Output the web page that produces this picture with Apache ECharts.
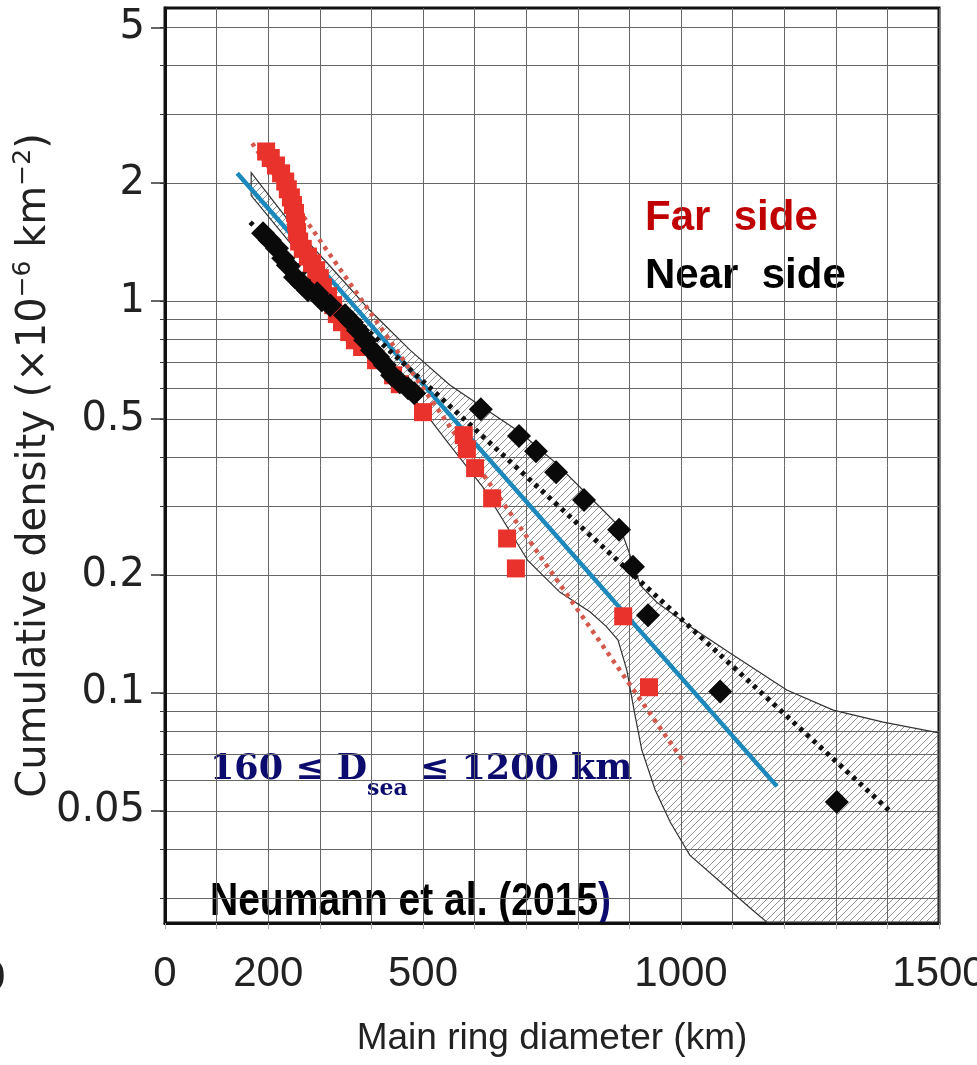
<!DOCTYPE html>
<html>
<head>
<meta charset="utf-8">
<script src="https://cdn.jsdelivr.net/npm/echarts@6/dist/echarts.min.js"></script>
<style>
  html, body { margin: 0; padding: 0; background: #fff; }
  #grafico { width: 977px; height: 1065px; }
</style>
</head>
<body>
<div id="grafico"></div>
<script>
// Datos: lado lejano (cuadrados rojos), diametro en km y densidad acumulada (x1e-6 km^-2)
const lejanoD = [196, 205, 215, 225, 233, 238, 244, 248, 252, 254, 256, 260, 267, 277, 285, 293, 300, 306, 316, 326,
  333, 343, 357, 368, 382, 409, 442, 455, 500, 579, 585, 601, 634, 663, 680, 888, 938];
const lejanoVal = [2.41, 2.32, 2.22, 2.12, 2.02, 1.93, 1.84, 1.76, 1.68, 1.59, 1.50, 1.42, 1.36, 1.30, 1.25, 1.20, 1.145, 1.086, 1.03, 0.977,
  0.927, 0.884, 0.834, 0.795, 0.764, 0.707, 0.647, 0.614, 0.521, 0.455, 0.419, 0.375, 0.314, 0.248, 0.208, 0.157, 0.1035];

// Datos: lado cercano (rombos negros)
const cercanoD = [190, 203, 217, 229, 238, 252, 266, 277, 295, 304, 320, 349, 362, 374, 388, 401, 413, 426, 440, 455,
  471, 483, 612, 686, 719, 758, 812, 880, 907, 936, 1076, 1302];
const cercanoVal = [1.49, 1.43, 1.365, 1.287, 1.235, 1.151, 1.105, 1.067, 1.048, 1.006, 0.977, 0.921, 0.884, 0.843, 0.795, 0.750, 0.720, 0.687, 0.647, 0.621,
  0.600, 0.582, 0.530, 0.453, 0.414, 0.366, 0.311, 0.261, 0.210, 0.158, 0.101, 0.0527];

// Ajustes (extremos de cada recta)
const ajusteTotalD = [140, 1186];
const ajusteTotalVal = [2.12, 0.0578];
const ajusteLejanoD = [169, 1008];
const ajusteLejanoVal = [2.53, 0.066];
const ajusteCercanoD = [165, 1407];
const ajusteCercanoVal = [1.59, 0.0497];

// Envolvente rayada: borde superior e inferior
const envSupD = [167, 242, 320, 397, 475, 552, 610, 688, 756, 824, 882, 905, 921, 953, 1017, 1095, 1205, 1295, 1392, 1500];
const envSupVal = [2.13, 1.59, 1.228, 0.948, 0.750, 0.611, 0.543, 0.463, 0.388, 0.316, 0.265, 0.218, 0.1886, 0.1706, 0.148, 0.1265, 0.1018, 0.0905, 0.0843, 0.0791];
const envInfD = [167, 262, 339, 397, 455, 500, 552, 616, 703, 765, 824, 855, 878, 895, 909, 924, 950, 979, 1017, 1076, 1134, 1167];
const envInfVal = [1.86, 1.31, 0.977, 0.782, 0.629, 0.527, 0.429, 0.3354, 0.218, 0.181, 0.161, 0.148, 0.1365, 0.1145, 0.0905, 0.0716, 0.0566, 0.0469, 0.0386, 0.033, 0.0283, 0.026];

// Ejes
const xMin = 0, xMax = 1500;
const yMin = 0.0259, yMax = 5.6;
const etiquetasX = [0, 200, 500, 1000, 1500];
const etiquetasY = [0.05, 0.1, 0.2, 0.5, 1, 2, 5];
const lineasY = [0.03, 0.04, 0.05, 0.06, 0.07, 0.08, 0.09, 0.1, 0.2, 0.3, 0.4, 0.5, 0.6, 0.7, 0.8, 0.9, 1, 2, 3, 4, 5];

function combinar(xs, ys) {
  return xs.map((x, i) => [x, ys[i]]);
}

// Patron de rayas diagonales para la envolvente
function crearRayado() {
  const c = document.createElement('canvas');
  c.width = 7; c.height = 7;
  const ctx = c.getContext('2d');
  ctx.strokeStyle = '#666';
  ctx.lineWidth = 0.7;
  ctx.beginPath();
  ctx.moveTo(0, 7); ctx.lineTo(7, 0);
  ctx.moveTo(-1, 1); ctx.lineTo(1, -1);
  ctx.moveTo(6, 8); ctx.lineTo(8, 6);
  ctx.stroke();
  return c;
}

function crearGrafico() {
  const rayado = { image: crearRayado(), repeat: 'repeat' };
  const fuente = '"Liberation Sans", Arial, Helvetica, sans-serif';

  return {
    animation: false,
    backgroundColor: '#fff',
    grid: {
      left: 165, right: 38, top: 8, bottom: 142,
      show: true, borderColor: '#111', borderWidth: 3,
      containLabel: false, outerBoundsMode: 'none'
    },
    xAxis: [{
      type: 'value', min: xMin, max: xMax, interval: 100,
      axisLine: { show: true, onZero: false, lineStyle: { color: '#111', width: 3 } },
      axisTick: { show: true, length: 6, lineStyle: { color: '#aaa' } },
      axisLabel: {
        customValues: etiquetasX, fontSize: 42, fontFamily: fuente, color: '#222', margin: 30,
        formatter: v => String(v)
      },
      splitLine: { show: true, lineStyle: { color: '#666', width: 1 } },
      name: 'Main ring diameter (km)', nameLocation: 'middle', nameGap: 97,
      nameTextStyle: { fontSize: 37, fontFamily: fuente, color: '#222' }
    }],
    yAxis: [{
      type: 'log', logBase: 10, min: yMin, max: yMax, position: 'left',
      axisLine: { show: true, lineStyle: { color: '#111', width: 3 } },
      axisTick: { show: true, length: 5, customValues: lineasY, lineStyle: { color: '#333' } },
      axisLabel: { show: false },
      splitLine: { show: true, lineStyle: { color: '#666', width: 1 } },
      name: '{a|Cumulative density (×10}{b|−6}{a| km}{b|−2}{a|)}',
      nameLocation: 'middle', nameGap: 106,
      nameTextStyle: {
        color: '#222',
        rich: {
          a: { fontSize: 40, lineHeight: 48, fontFamily: '"DejaVu Sans", sans-serif', color: '#222' },
          b: { fontSize: 25, lineHeight: 25, verticalAlign: 'top', fontFamily: '"DejaVu Sans", sans-serif', color: '#222' }
        }
      }
    }, {
      type: 'log', logBase: 10, min: yMin, max: yMax, position: 'left',
      axisLine: { show: false },
      axisTick: { show: true, length: 14, customValues: etiquetasY, lineStyle: { color: '#333', width: 1.5 } },
      axisLabel: {
        customValues: etiquetasY, fontSize: 40, fontFamily: '"DejaVu Sans", sans-serif', color: '#222', margin: 20,
        formatter: v => String(v)
      },
      splitLine: { show: false }
    }],
    graphic: [
      { type: 'text', x: 645, y: 218, silent: true,
        style: { text: 'Far  side', fill: '#c00000', font: 'bold 42px ' + fuente, align: 'left', verticalAlign: 'middle' } },
      { type: 'text', x: 645, y: 276, silent: true,
        style: { text: 'Near  side', fill: '#000', font: 'bold 42px ' + fuente, align: 'left', verticalAlign: 'middle' } },
      { type: 'text', x: 210, y: 752, silent: true,
        style: {
          text: '{a|160 ≤ D}{s|sea}{a| ≤ 1200 km}', align: 'left', verticalAlign: 'top',
          rich: {
            a: { fontSize: 35, lineHeight: 48, verticalAlign: 'top', fontWeight: 'bold', fontFamily: '"DejaVu Serif", serif', fill: '#0c0c6e' },
            s: { fontSize: 22, lineHeight: 22, verticalAlign: 'bottom', fontWeight: 'bold', fontFamily: '"DejaVu Serif", serif', fill: '#0c0c6e' }
          }
        } },
      { type: 'text', x: 210, y: 902, scaleX: 0.83, silent: true,
        style: {
          text: '{n|Neumann et al. (2015}{p|)}', align: 'left', verticalAlign: 'middle',
          rich: {
            n: { fontSize: 47, fontWeight: 'bold', fontFamily: fuente, fill: '#000' },
            p: { fontSize: 47, fontWeight: 'bold', fontFamily: fuente, fill: '#0c0c6e' }
          }
        } },
      { type: 'text', x: -18, y: 978, silent: true,
        style: { text: '0', fill: '#222', font: '42px ' + fuente, align: 'left', verticalAlign: 'middle' } }
    ],
    series: [
      {
        name: 'Envolvente', type: 'custom', coordinateSystem: 'cartesian2d',
        xAxisIndex: 0, yAxisIndex: 0, clip: true, silent: true, z: 1,
        data: [[envSupD[0], envSupVal[0]]],
        renderItem: function (params, api) {
          const puntos = [];
          for (let i = 0; i < envSupD.length; i++) puntos.push(api.coord([envSupD[i], envSupVal[i]]));
          puntos.push(api.coord([xMax, yMin]));
          for (let i = envInfD.length - 1; i >= 0; i--) puntos.push(api.coord([envInfD[i], envInfVal[i]]));
          return {
            type: 'polygon',
            shape: { points: puntos },
            style: { fill: rayado, stroke: '#333', lineWidth: 1.2 }
          };
        }
      },
      {
        name: 'Ajuste total', type: 'line', z: 3, showSymbol: false, silent: true,
        data: combinar(ajusteTotalD, ajusteTotalVal),
        lineStyle: { color: '#1c88bb', width: 4.5 }
      },
      {
        name: 'Ajuste lado lejano', type: 'line', z: 3, showSymbol: false, silent: true,
        data: combinar(ajusteLejanoD, ajusteLejanoVal),
        lineStyle: { color: '#d4594c', width: 4.5, type: [4, 5] }
      },
      {
        name: 'Ajuste lado cercano', type: 'line', z: 3, showSymbol: false, silent: true,
        data: combinar(ajusteCercanoD, ajusteCercanoVal),
        lineStyle: { color: '#111', width: 5, type: [4, 5] }
      },
      {
        name: 'Far side', type: 'scatter', z: 4, symbol: 'rect', symbolSize: 18,
        data: combinar(lejanoD, lejanoVal),
        itemStyle: { color: '#e8322b', opacity: 1 }
      },
      {
        name: 'Near side', type: 'scatter', z: 5, symbol: 'diamond', symbolSize: 24,
        data: combinar(cercanoD, cercanoVal),
        itemStyle: { color: '#0a0a0a', opacity: 1 }
      }
    ]
  };
}

function iniciar() {
  const chartDom = document.getElementById('grafico');
  const myChart = echarts.init(chartDom, null, { renderer: 'canvas' });
  myChart.setOption(crearGrafico());
}

iniciar();
</script>
</body>
</html>
